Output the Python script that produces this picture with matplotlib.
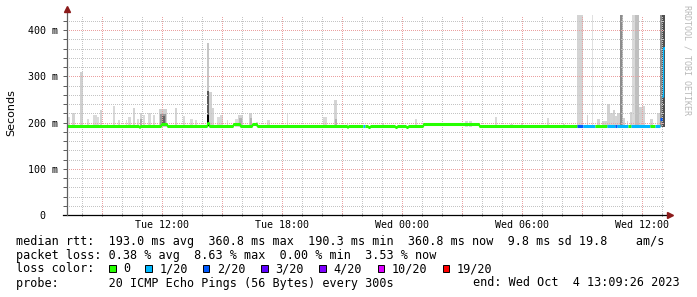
import matplotlib
matplotlib.use("Agg")
import matplotlib.pyplot as plt
import numpy as np

# ---------------- data (hours since Tue 00:00, values in ms) ----------------
x_start, x_end = 7.235, 37.157

smoke_start = [7.235, 7.485, 7.885, 8.25, 8.52, 8.735, 8.885, 9.22, 9.52, 9.77,
               10.17, 10.27, 10.55, 10.72, 10.885, 11.05, 11.3, 11.52, 11.85, 12.635,
               13.02, 13.385, 13.635, 14.22, 14.335, 14.47, 14.72, 14.885, 15.22, 15.635,
               15.8, 16.35, 16.685, 17.25, 18.22, 18.72, 20.02, 20.6, 21.22, 22.97,
               24.635, 27.135, 27.35, 28.635, 29.385, 29.92, 31.22, 32.035, 32.75, 33.22,
               33.47, 33.75, 33.97, 34.22, 34.385, 34.52, 34.635, 34.75, 34.885, 35.02,
               35.22, 35.385, 35.47, 35.635, 35.85, 35.97, 36.385, 36.72, 36.885, 36.97]
smoke_end = [7.385, 7.635, 8.02, 8.35, 8.72, 8.835, 9.0, 9.3, 9.65, 9.885,
             10.25, 10.435, 10.65, 10.835, 11.0, 11.15, 11.42, 11.635, 12.22, 12.72,
             13.135, 13.52, 13.72, 14.335, 14.47, 14.6, 14.885, 15.05, 15.3, 15.8,
             16.02, 16.5, 16.8, 17.385, 18.3, 18.85, 20.22, 20.75, 21.3, 23.085,
             24.75, 27.3, 27.5, 28.75, 29.52, 30.02, 31.335, 32.135, 33.02, 33.3,
             33.55, 33.885, 34.22, 34.385, 34.52, 34.635, 34.75, 34.885, 35.02, 35.135,
             35.3, 35.47, 35.635, 35.85, 35.97, 36.135, 36.55, 36.885, 36.97, 37.157]
smoke_top = [213, 221, 310, 208, 216, 213, 227, 199, 236, 206,
             206, 213, 232, 207, 220, 216, 220, 216, 229, 232,
             215, 208, 206, 372, 266, 232, 213, 216, 206, 207,
             216, 221, 202, 206, 219, 195, 213, 249, 198, 200,
             208, 204, 204, 213, 198, 199, 209, 197, 435, 216,
             435, 208, 204, 240, 220, 227, 214, 220, 435, 209,
             203, 224, 435, 435, 234, 236, 207, 220, 435, 435]
smoke_depth = [0.14, 0.17, 0.18, 0.14, 0.15, 0.14, 0.17, 0.14, 0.15, 0.14,
               0.14, 0.15, 0.17, 0.14, 0.18, 0.15, 0.15, 0.15, 0.18, 0.17,
               0.15, 0.14, 0.14, 0.22, 0.18, 0.17, 0.14, 0.15, 0.14, 0.14,
               0.17, 0.18, 0.14, 0.15, 0.14, 0.14, 0.15, 0.17, 0.14, 0.15,
               0.15, 0.15, 0.15, 0.15, 0.14, 0.14, 0.15, 0.14, 0.17, 0.18,
               0.12, 0.17, 0.17, 0.18, 0.17, 0.18, 0.17, 0.18, 0.34, 0.18,
               0.17, 0.18, 0.15, 0.22, 0.18, 0.17, 0.17, 0.17, 0.45, 0.69]

core_start = [10.9, 11.9, 12.0, 14.22, 14.25, 15.82, 16.37, 20.62, 34.9, 35.66]
core_end = [10.98, 12.2, 12.15, 14.335, 14.32, 16.0, 16.48, 20.73, 35.0, 35.82]
core_top = [205, 216, 212, 266, 213, 207, 208, 205, 435, 435]
core_depth = [0.33, 0.4, 0.6, 0.65, 1.0, 0.3, 0.3, 0.3, 0.45, 0.25]

med_start = [7.235, 10.835, 10.9, 11.92, 12.22, 14.235, 14.35, 15.535, 15.885, 16.47,
             16.72, 21.22, 21.3, 22.05, 22.135, 22.3, 22.385, 23.635, 23.735, 24.185,
             24.285, 25.02, 27.85, 32.735, 33.035, 33.635, 34.235, 34.635, 34.735, 35.285,
             35.435, 36.385, 36.635, 36.885, 36.97, 37.055]
med_end = med_start[1:] + [37.157]
med_value = [192.5, 190.5, 192.5, 196.5, 192.5, 200, 192.5, 196.5, 193, 197,
             192.5, 189.5, 192.5, 192.5, 192.5, 189.5, 192.5, 189.5, 192.5, 189.5,
             192.5, 197, 192.5, 192.5, 192.5, 192.5, 192.5, 192.5, 192.5, 192.5,
             192.5, 192.5, 192.5, 207, 258, 360.8]
med_loss = [0, 0, 0, 0, 0, 0, 0, 0, 0, 0,
            0, 0, 0, 1, 0, 0, 0, 0, 0, 0,
            0, 0, 0, 2, 1, 0, 1, 2, 1, 0,
            1, 0, 1, 2, 1, 1]

loss_levels = [0, 1, 2, 3, 4, 10, 19]
loss_labels = ["0", "1/20", "2/20", "3/20", "4/20", "10/20", "19/20"]
loss_colors = ["#26ff00", "#00b8ff", "#0059ff", "#5e00ff", "#7e00ff", "#dd00ff", "#ff0000"]

x_ticks = [12, 18, 24, 30, 36]
x_tick_labels = ["Tue 12:00", "Tue 18:00", "Wed 00:00", "Wed 06:00", "Wed 12:00"]
y_ticks = [0, 100, 200, 300, 400]
y_tick_labels = ["0  ", "100 m", "200 m", "300 m", "400 m"]

legend_lines = [
    "median rtt:  193.0 ms avg  360.8 ms max  190.3 ms min  360.8 ms now  9.8 ms sd 19.8    am/s",
    "packet loss: 0.38 % avg  8.63 % max  0.00 % min  3.53 % now",
]
probe_text = "probe:       20 ICMP Echo Pings (56 Bytes) every 300s"
end_text = "end: Wed Oct  4 13:09:26 2023"

# ---------------- figure ----------------
W, H = 697, 297
mono = "DejaVu Sans Mono"
fig = plt.figure(figsize=(W / 100, H / 100), dpi=100)
fig.patch.set_facecolor("white")

def fx(px):
    return px / W

def fy(py):
    return 1 - py / H

ax = fig.add_axes([fx(67), fy(215), (665.4 - 67) / W, (215 - 14.5) / H])
ax.set_xlim(x_start, x_end)
ax.set_ylim(0, 434)
for s in ax.spines.values():
    s.set_visible(False)

# smoke
base = 190
for s0, s1, top, d in zip(smoke_start, smoke_end, smoke_top, smoke_depth):
    ax.bar(s0, top - base, width=s1 - s0, bottom=base, align="edge",
           color=str(round(1 - d, 3)), linewidth=0, zorder=1)
for s0, s1, top, d in zip(core_start, core_end, core_top, core_depth):
    ax.bar(s0, top - base, width=s1 - s0, bottom=base + 3, align="edge",
           color=str(round(1 - d, 3)), linewidth=0, zorder=1.5)

# grid (dotted, crisp)
dot = (0, (1, 2))
minor_c, major_c = "#c4c4c4", "#eaa0a0"
for h in np.arange(8, 38, 1):
    ax.axvline(h, color=major_c if h % 3 == 0 else minor_c, lw=0.72, ls=dot,
               antialiased=False, zorder=2)
for v in np.arange(20, 434, 20):
    ax.axhline(v, color=major_c if v % 100 == 0 else minor_c, lw=0.72, ls=dot,
               antialiased=False, zorder=2)

# median line coloured by loss
color_of = dict(zip(loss_levels, loss_colors))
prev = None
for s0, s1, v, lo in zip(med_start, med_end, med_value, med_loss):
    c = color_of[lo]
    ax.plot([s0, s1], [v, v], color=c, lw=2.2, solid_capstyle="butt", zorder=3)
    if prev is not None and prev[1] == lo and prev[0] != v:
        ax.plot([s0, s0], [prev[0], v], color=c, lw=0.9, zorder=3)
    prev = (v, lo)

# axes lines and arrows
ax.plot([-0.007, 1.005], [0, 0], transform=ax.transAxes, color="black",
        lw=0.9, clip_on=False, zorder=5)
ax.plot([0, 0], [0, 1.01], transform=ax.transAxes, color="#606060",
        lw=0.9, clip_on=False, zorder=5)
ax.plot([1.008], [0], transform=ax.transAxes, marker=">", ms=4.5,
        color="#8b1a1a", clip_on=False, zorder=6)
ax.plot([0], [1.025], transform=ax.transAxes, marker="^", ms=4.5,
        color="#8b1a1a", clip_on=False, zorder=6)

# ticks
ax.set_xticks(x_ticks)
ax.set_xticklabels(x_tick_labels, fontfamily=mono, fontsize=7.2)
ax.set_xticks(np.arange(8, 38, 1), minor=True)
ax.set_yticks(y_ticks)
ax.set_yticklabels(y_tick_labels, fontfamily=mono, fontsize=7.2)
ax.set_yticks(np.arange(20, 434, 20), minor=True)
ax.tick_params(axis="x", which="both", length=2, width=0.72, color="#606060",
               direction="inout", pad=2.5)
ax.tick_params(axis="y", which="both", length=3, width=0.72, color="#606060",
               direction="out", pad=3.4)

fig.text(fx(11), fy(113), "Seconds", rotation=90, ha="center", va="center",
         fontsize=8, fontfamily="DejaVu Sans")
fig.text(fx(687), fy(60), "RRDTOOL / TOBI OETIKER", rotation=-90, ha="center",
         va="center", fontsize=6, fontfamily=mono, color="#b8b8b8")

# legend text
fs = 8.45
fig.text(fx(16), fy(241), legend_lines[0], ha="left", va="center", fontsize=fs, fontfamily=mono)
fig.text(fx(16), fy(255.5), legend_lines[1], ha="left", va="center", fontsize=fs, fontfamily=mono)
fig.text(fx(16), fy(269), "loss color:", ha="left", va="center", fontsize=fs, fontfamily=mono)
box_x = [109, 145.3, 202.7, 261, 319.3, 377.7, 442.7]
for bx, lab, col in zip(box_x, loss_labels, loss_colors):
    fig.patches.append(plt.Rectangle((fx(bx), fy(271.5)), 6.5 / W, 6.5 / H,
                                     transform=fig.transFigure, facecolor=col,
                                     edgecolor="black", linewidth=0.7))
    fig.text(fx(bx + 14.2), fy(269), lab, ha="left", va="center", fontsize=fs, fontfamily=mono)
fig.text(fx(16), fy(283), probe_text, ha="left", va="center", fontsize=fs, fontfamily=mono)
fig.text(fx(680), fy(283), end_text, ha="right", va="center", fontsize=fs, fontfamily=mono)

fig.savefig("out.png", dpi=100, facecolor="white")
